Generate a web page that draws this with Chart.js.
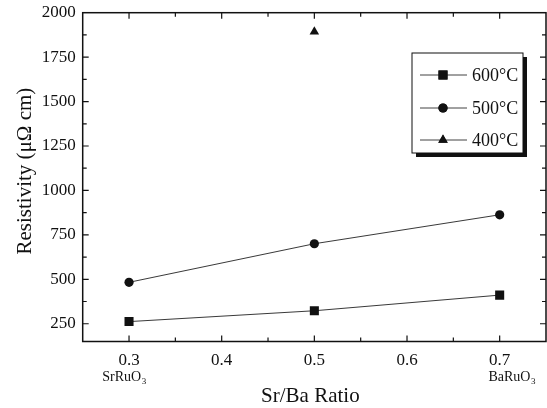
<!DOCTYPE html>
<html>
<head>
<meta charset="utf-8">
<script src="https://cdn.jsdelivr.net/npm/chart.js@4.4.0/dist/chart.umd.min.js"></script>
<style>
  html, body { margin: 0; padding: 0; background: #fff; }
  #wrap { width: 547px; height: 408px; }
</style>
</head>
<body>
<div id="wrap"><canvas id="resistivityChart" width="547" height="408"></canvas></div>
<script>
// Data
const ratios = [0.3, 0.5, 0.7];
const rho600 = [262, 323, 411];
const rho500 = [483, 700, 863];
const ratio400 = [0.5];
const rho400 = [1893];
const xTicks = [0.3, 0.4, 0.5, 0.6, 0.7];
const yTicks = [250, 500, 750, 1000, 1250, 1500, 1750, 2000];
const seriesNames = ['600°C', '500°C', '400°C'];

const ink = '#111';
const serif = "'Liberation Serif', 'Times New Roman', serif";

function toPoints(xs, ys) {
  return xs.map((x, i) => ({ x: x, y: ys[i] }));
}

// axes frame, inward ticks, titles, compound labels and boxed legend
const framePlugin = {
  id: 'frame',
  afterDraw(chart) {
    const ctx = chart.ctx;
    const a = chart.chartArea;
    const xs = chart.scales.x;
    const ys = chart.scales.y;
    ctx.save();
    ctx.strokeStyle = ink;
    ctx.lineWidth = 1.5;
    ctx.strokeRect(a.left, a.top, a.right - a.left, a.bottom - a.top);

    ctx.lineWidth = 1.2;
    // x ticks (major 0.1, minor 0.05) on bottom and top
    for (let k = 5; k <= 15; k++) {
      const v = k * 0.05;
      const px = xs.getPixelForValue(v);
      if (px <= a.left + 1 || px >= a.right - 1) continue;
      const len = k % 2 === 0 ? 6 : 4;
      ctx.beginPath();
      ctx.moveTo(px, a.bottom); ctx.lineTo(px, a.bottom - len);
      ctx.moveTo(px, a.top); ctx.lineTo(px, a.top + len);
      ctx.stroke();
    }
    // y ticks (major 250, minor 125) on left and right
    for (let v = 250; v < 2000; v += 125) {
      const py = ys.getPixelForValue(v);
      const len = v % 250 === 0 ? 6 : 4;
      ctx.beginPath();
      ctx.moveTo(a.left, py); ctx.lineTo(a.left + len, py);
      ctx.moveTo(a.right, py); ctx.lineTo(a.right - len, py);
      ctx.stroke();
    }

    ctx.fillStyle = ink;
    // axis titles
    ctx.font = '21px ' + serif;
    ctx.textAlign = 'center';
    ctx.textBaseline = 'middle';
    ctx.fillText('Sr/Ba Ratio', (a.left + a.right) / 2 - 4, 396);
    ctx.save();
    ctx.translate(25, (a.top + a.bottom) / 2 - 6);
    ctx.rotate(-Math.PI / 2);
    ctx.fillText('Resistivity (\u03BC\u03A9 cm)', 0, 0);
    ctx.restore();

    // compound names under end ticks
    function compound(name, cx) {
      ctx.font = '14px ' + serif;
      const w = ctx.measureText(name).width;
      ctx.font = '9px ' + serif;
      const ws = ctx.measureText('3').width;
      const x0 = cx - (w + ws) / 2;
      ctx.textAlign = 'left';
      ctx.font = '14px ' + serif;
      ctx.fillText(name, x0, 377);
      ctx.font = '9px ' + serif;
      ctx.fillText('3', x0 + w + 0.5, 382);
    }
    compound('SrRuO', xs.getPixelForValue(ratios[0]) - 5);
    compound('BaRuO', xs.getPixelForValue(ratios[2]) + 12);

    // legend box with shadow
    const bx = 412, by = 53, bw = 111, bh = 100;
    ctx.fillRect(bx + 4, by + 4, bw, bh);
    ctx.fillStyle = '#fff';
    ctx.fillRect(bx, by, bw, bh);
    ctx.lineWidth = 1;
    ctx.strokeRect(bx, by, bw, bh);
    const rows = [75, 108, 140];
    const styles = chart.data.datasets.map(d => d.pointStyle);
    const radii = chart.data.datasets.map(d => d.pointRadius);
    rows.forEach((ry, i) => {
      ctx.strokeStyle = ink;
      ctx.lineWidth = 0.8;
      ctx.beginPath();
      ctx.moveTo(420, ry); ctx.lineTo(467, ry);
      ctx.stroke();
      ctx.fillStyle = ink;
      Chart.helpers.drawPoint(ctx, { pointStyle: styles[i], radius: radii[i], borderWidth: 0 }, 443, ry);
      ctx.fill();
      ctx.font = '18px ' + serif;
      ctx.textAlign = 'left';
      ctx.textBaseline = 'middle';
      ctx.fillText(seriesNames[i], 472, ry + 1);
    });
    ctx.restore();
  }
};

new Chart(document.getElementById('resistivityChart'), {
  type: 'scatter',
  data: {
    datasets: [
      {
        label: seriesNames[0],
        data: toPoints(ratios, rho600),
        showLine: true,
        borderColor: '#222',
        borderWidth: 0.9,
        pointStyle: 'rect',
        pointRadius: 6.4,
        pointBackgroundColor: ink,
        pointBorderWidth: 0
      },
      {
        label: seriesNames[1],
        data: toPoints(ratios, rho500),
        showLine: true,
        borderColor: '#222',
        borderWidth: 0.9,
        pointStyle: 'circle',
        pointRadius: 4.6,
        pointBackgroundColor: ink,
        pointBorderWidth: 0
      },
      {
        label: seriesNames[2],
        data: toPoints(ratio400, rho400),
        showLine: false,
        pointStyle: 'triangle',
        pointRadius: 5.5,
        pointBackgroundColor: ink,
        pointBorderWidth: 0
      }
    ]
  },
  options: {
    responsive: false,
    animation: false,
    layout: { autoPadding: false, padding: { top: 12.7, right: 1, left: 0, bottom: 0 } },
    plugins: {
      legend: { display: false },
      tooltip: { enabled: false }
    },
    scales: {
      x: {
        type: 'linear',
        min: 0.25,
        max: 0.75,
        grid: { display: false, drawTicks: false },
        border: { display: false },
        afterBuildTicks(s) { s.ticks = xTicks.map(v => ({ value: v })); },
        afterFit(s) { s.height = 66.5; s.paddingLeft = 0; s.paddingRight = 0; },
        ticks: {
          color: ink,
          font: { family: serif, size: 17 },
          padding: 9,
          maxRotation: 0,
          callback: v => v.toFixed(1)
        }
      },
      y: {
        min: 150,
        max: 2000,
        grid: { display: false, drawTicks: false },
        border: { display: false },
        afterBuildTicks(s) { s.ticks = yTicks.map(v => ({ value: v })); },
        afterFit(s) {
          s.width = 82.7;
          s.paddingTop = 0; s.paddingBottom = 0;
          s.paddingLeft = 0; s.paddingRight = 0;
        },
        ticks: {
          color: ink,
          font: { family: serif, size: 17 },
          padding: 7,
          callback: v => String(v)
        }
      }
    }
  },
  plugins: [framePlugin]
});
</script>
</body>
</html>
